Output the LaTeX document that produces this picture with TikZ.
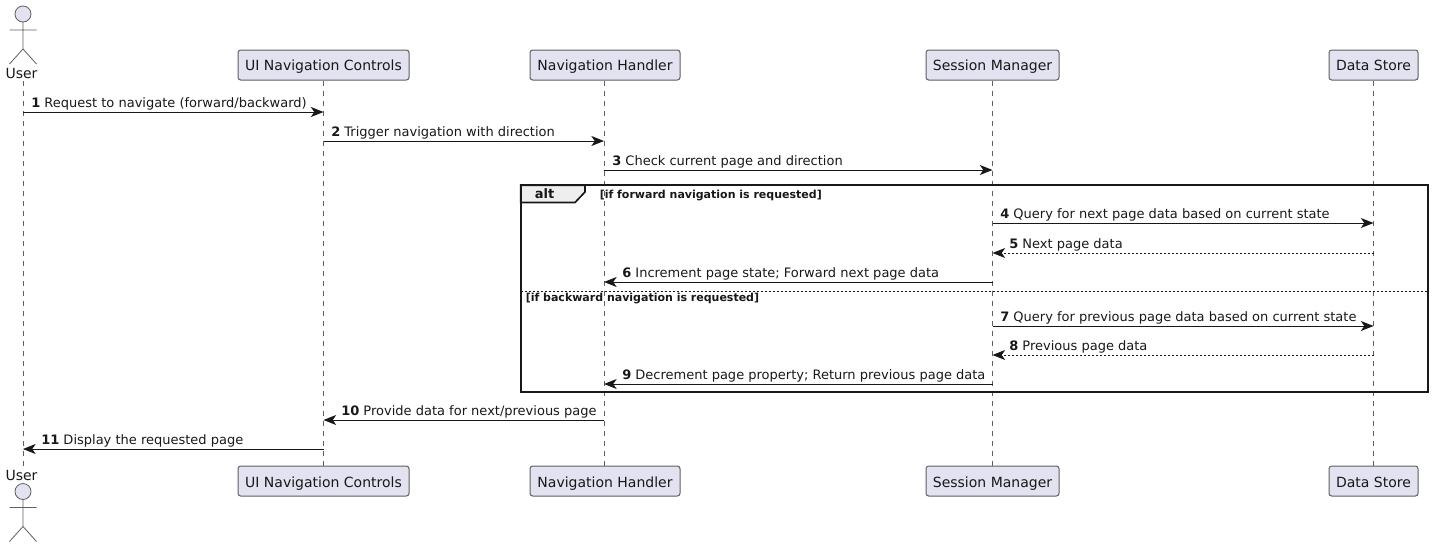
\documentclass[tikz,border=0pt]{standalone}
\usepackage{fontspec}
\setmainfont{DejaVu Sans}
\usetikzlibrary{arrows.meta}
\definecolor{pfill}{HTML}{E2E2F0}
\definecolor{pline}{HTML}{5F5F5F}
\definecolor{ink}{HTML}{181818}
\definecolor{tabfill}{HTML}{EEEEEE}
\tikzset{
  part/.style={draw=pline,fill=pfill,line width=0.75pt,rounded corners=2pt,minimum height=22.5pt,inner sep=0pt,font=\fontsize{10.5pt}{12pt}\selectfont,text=ink,text height=9pt,text depth=1.5pt},
  partlow/.style={part,text height=9.5pt,text depth=0.5pt},
  actorlabel/.style={inner sep=0pt,font=\fontsize{10.5pt}{12pt}\selectfont,text=ink},
  lifeline/.style={draw=pline,line width=0.6pt,dash pattern=on 3.75pt off 3.75pt},
  actorline/.style={draw=pline,line width=0.6pt,fill=pfill},
  msg/.style={draw=ink,line width=0.75pt,-{Stealth[length=9.5pt,width=7.5pt,inset=2.6pt]}},
  reply/.style={msg,dash pattern=on 1.5pt off 1.5pt},
  msgtext/.style={anchor=base west,inner sep=0pt,font=\fontsize{9.75pt}{12pt}\selectfont,text=ink},
  frameline/.style={draw=ink,line width=1.25pt},
  guard/.style={anchor=base west,inner sep=0pt,font=\fontsize{8.25pt}{10pt}\selectfont\bfseries,text=ink},
}
\newcommand{\actorfig}[2]{%
  \draw[actorline] (#1,#2) circle[radius=8];
  \draw[actorline,fill=none] (#1,#2+8) -- (#1,#2+35)
    (#1-13.5,#2+16) -- (#1+13.5,#2+16)
    (#1-13.5,#2+50) -- (#1,#2+35) -- (#1+13.5,#2+50);
}
\begin{document}
\begin{tikzpicture}[x=0.75pt,y=-0.75pt]
\useasboundingbox (0,0) rectangle (1434,547);
% participants
\node[actorlabel,anchor=base] (userT) at (21.5,78) {User};
\node[actorlabel,anchor=base] (userB) at (21.5,480) {User};
\node[part,minimum width=128.25pt] (uiT) at (323.5,65) {UI Navigation Controls};
\node[part,minimum width=112.5pt] (navT) at (605,65) {Navigation Handler};
\node[part,minimum width=99.75pt] (sesT) at (992.5,65) {Session Manager};
\node[part,minimum width=66.75pt] (datT) at (1373.5,65) {Data Store};
\node[partlow,minimum width=128.25pt] (uiB) at (323.5,481) {UI Navigation Controls};
\node[partlow,minimum width=112.5pt] (navB) at (605,481) {Navigation Handler};
\node[partlow,minimum width=99.75pt] (sesB) at (992.5,481) {Session Manager};
\node[partlow,minimum width=66.75pt] (datB) at (1373.5,481) {Data Store};
% lifelines
\coordinate (lU) at (23,81);
\coordinate (lI) at (uiT.south);
\coordinate (lN) at (604,81);
\coordinate (lS) at (sesT.south);
\coordinate (lD) at (datT.south);
\draw[lifeline] (lU) -- (lU |- userB.north);
\draw[lifeline] (uiT.south) -- (uiB.north);
\draw[lifeline] (lN) -- (lN |- navB.north);
\draw[lifeline] (sesT.south) -- (sesB.north);
\draw[lifeline] (datT.south) -- (datB.north);
% actors
\actorfig{23}{14}
\actorfig{23}{491.5}
% frame
\coordinate (fTL) at (520.7,185.3);
\coordinate (fBR) at (1427.8,391.7);
\coordinate (sepL) at (520.7,291);
\coordinate (sepR) at (1427.8,291);
\draw[frameline,fill=tabfill] (fTL) -- (585,185.3) -- (585,192) -- (575,202.5) -- (520.7,202.5) -- cycle;
\draw[frameline] (fTL) rectangle (fBR);
\draw[draw=ink,line width=0.75pt,dash pattern=on 1.5pt off 1.5pt] (sepL) -- (sepR);
\node[anchor=base,inner sep=0pt,font=\fontsize{9.75pt}{12pt}\selectfont\bfseries,text=ink] (alt) at (544.5,198) {alt};
\node[guard] (g1) at (599.5,198) {[if forward navigation is requested]};
\node[guard] (g2) at (525.5,301) {[if backward navigation is requested]};
% message rows
\foreach \n/\y in {1/112,2/141,3/170,4/223,5/253,6/282,7/326,8/355,9/384,10/420,11/449}{\coordinate (y\n) at (0,\y);}
\draw[msg] (lU |- y1) -- (lI |- y1);
\draw[msg] (lI |- y2) -- (lN |- y2);
\draw[msg] (lN |- y3) -- (lS |- y3);
\draw[msg] (lS |- y4) -- (lD |- y4);
\draw[reply] (lD |- y5) -- (lS |- y5);
\draw[msg] (lS |- y6) -- (lN |- y6);
\draw[msg] (lS |- y7) -- (lD |- y7);
\draw[reply] (lD |- y8) -- (lS |- y8);
\draw[msg] (lS |- y9) -- (lN |- y9);
\draw[msg] (lN |- y10) -- (lI |- y10);
\draw[msg] (lI |- y11) -- (lU |- y11);
% message texts
\node[msgtext] (t1) at (31,107) {\textbf{1} Request to navigate (forward/backward)};
\node[msgtext] (t2) at (331,136) {\textbf{2} Trigger navigation with direction};
\node[msgtext] (t3) at (612,165) {\textbf{3} Check current page and direction};
\node[msgtext] (t4) at (1000,218) {\textbf{4} Query for next page data based on current state};
\node[msgtext] (t5) at (1009,248) {\textbf{5} Next page data};
\node[msgtext] (t6) at (622,277) {\textbf{6} Increment page state; Forward next page data};
\node[msgtext] (t7) at (1000,321) {\textbf{7} Query for previous page data based on current state};
\node[msgtext] (t8) at (1009,350) {\textbf{8} Previous page data};
\node[msgtext] (t9) at (622,379) {\textbf{9} Decrement page property; Return previous page data};
\node[msgtext] (t10) at (341,415) {\textbf{10} Provide data for next/previous page};
\node[msgtext] (t11) at (41,444) {\textbf{11} Display the requested page};
\end{tikzpicture}
\end{document}
